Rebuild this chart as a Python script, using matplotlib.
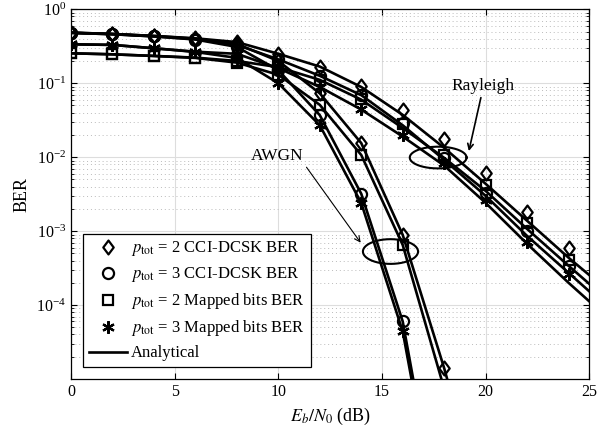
import numpy as np
import matplotlib
matplotlib.use('Agg')
import matplotlib.pyplot as plt
from matplotlib.path import Path

plt.rcParams['font.family'] = ['Liberation Serif', 'DejaVu Serif']
plt.rcParams['mathtext.fontset'] = 'stix'

# Eb/N0 grid (dB)
snr_sim = [0, 2, 4, 6, 8, 10, 12, 14, 16, 18, 20, 22, 24]
snr_ana_ray = [0, 2, 4, 6, 8, 10, 12, 14, 16, 18, 20, 22, 24, 26]
snr_ana_awgn = [0, 2, 4, 6, 8, 10, 12, 14, 16, 18, 20]

# simulated BER, Rayleigh channel
ray_p2_cci = [0.483, 0.464, 0.436, 0.405, 0.36, 0.25, 0.168, 0.093, 0.044, 0.0175, 0.0061, 0.00184, 0.00059]
ray_p3_cci = [0.48, 0.46, 0.43, 0.395, 0.33, 0.21, 0.126, 0.07, 0.029, 0.0098, 0.0033, 0.001, 0.00034]
ray_p2_map = [0.254, 0.246, 0.234, 0.222, 0.20, 0.165, 0.111, 0.062, 0.028, 0.0106, 0.0042, 0.00129, 0.00041]
ray_p3_map = [0.336, 0.33, 0.297, 0.267, 0.25, 0.16, 0.089, 0.045, 0.020, 0.0083, 0.00265, 0.00072, 0.00026]

# simulated BER, AWGN channel (points below 1e-5 not shown)
awgn_p2_cci = [0.483, 0.464, 0.436, 0.40, 0.34, 0.2, 0.073, 0.0155, 0.00089, 1.4e-5]
awgn_p3_cci = [0.48, 0.46, 0.43, 0.39, 0.31, 0.15, 0.037, 0.0032, 6.0e-5]
awgn_p2_map = [0.254, 0.246, 0.234, 0.22, 0.19, 0.13, 0.051, 0.0107, 0.00065]
awgn_p3_map = [0.336, 0.33, 0.297, 0.265, 0.22, 0.10, 0.027, 0.0024, 4.4e-5]

# analytical curves
ana_ray = [
    [0.483, 0.464, 0.436, 0.405, 0.36, 0.25, 0.168, 0.089, 0.0373, 0.01337, 0.00436, 0.00138, 0.000437, 0.000148],
    [0.254, 0.246, 0.234, 0.222, 0.20, 0.165, 0.111, 0.06, 0.0248, 0.00978, 0.0035, 0.00107, 0.00034, 0.00011],
    [0.48, 0.46, 0.43, 0.395, 0.33, 0.21, 0.126, 0.069, 0.027, 0.0092, 0.0030, 0.00086, 0.000273, 8.6e-5],
    [0.336, 0.33, 0.297, 0.267, 0.25, 0.16, 0.089, 0.044, 0.019, 0.0077, 0.00241, 0.000673, 0.0002, 6.3e-5],
]
ana_awgn = [
    [0.483, 0.464, 0.436, 0.40, 0.34, 0.2, 0.073, 0.0155, 0.00089, 1.4e-5, 1.3e-7],
    [0.254, 0.246, 0.234, 0.22, 0.19, 0.13, 0.051, 0.0107, 0.00065, 7.4e-6, 6e-8],
    [0.48, 0.46, 0.43, 0.39, 0.31, 0.15, 0.037, 0.0032, 6.0e-5, 5e-8, 1e-11],
    [0.336, 0.33, 0.297, 0.265, 0.22, 0.10, 0.027, 0.0024, 4.4e-5, 4e-8, 1e-11],
]

labels = [r'$p_{\rm tot}$ = 2 CCI-DCSK BER', r'$p_{\rm tot}$ = 3 CCI-DCSK BER',
          r'$p_{\rm tot}$ = 2 Mapped bits BER', r'$p_{\rm tot}$ = 3 Mapped bits BER']

diamond = Path([(0, 1), (0.75, 0), (0, -1), (-0.75, 0), (0, 1)],
               [Path.MOVETO, Path.LINETO, Path.LINETO, Path.LINETO, Path.CLOSEPOLY])
markers = [diamond, 'o', 's', (6, 2, 0)]
msizes = [10, 8, 7, 9]

fig = plt.figure(figsize=(6.11, 4.36), dpi=100)
ax = fig.add_axes([0.1162, 0.1307, 0.8483, 0.848])

for y in ana_ray:
    ax.plot(snr_ana_ray, y, 'k-', lw=1.9)
for y in ana_awgn:
    ax.plot(snr_ana_awgn, y, 'k-', lw=1.9)

ray_sims = [ray_p2_cci, ray_p3_cci, ray_p2_map, ray_p3_map]
awgn_sims = [awgn_p2_cci, awgn_p3_cci, awgn_p2_map, awgn_p3_map]
handles = []
for i in range(4):
    h, = ax.plot(snr_sim, ray_sims[i], ls='none', marker=markers[i], ms=msizes[i],
                 mfc='none', mec='k', mew=1.6, label=labels[i])
    ax.plot(snr_sim[:len(awgn_sims[i])], awgn_sims[i], ls='none', marker=markers[i],
            ms=msizes[i], mfc='none', mec='k', mew=1.6)
    handles.append(h)
ha, = ax.plot([], [], 'k-', lw=1.9, label='Analytical')
handles.append(ha)

# ellipses around the curve groups
t = np.linspace(0, 2 * np.pi, 200)
ax.plot(17.71 + 1.37 * np.cos(t), 10 ** (-2.005 + 0.147 * np.sin(t)), 'k-', lw=1.5)
ax.plot(15.41 + 1.33 * np.cos(t), 10 ** (-3.276 + 0.167 * np.sin(t)), 'k-', lw=1.5)

ax.text(19.85, 0.092, 'Rayleigh', fontsize=12.5, ha='center', va='center')
ax.annotate('', xy=(19.16, 0.0111), xytext=(19.8, 0.0695),
            arrowprops=dict(arrowstyle='->', lw=1.2, color='k'))
ax.text(9.96, 0.0104, 'AWGN', fontsize=12.5, ha='center', va='center')
ax.annotate('', xy=(14.05, 6.5e-4), xytext=(11.28, 0.00785),
            arrowprops=dict(arrowstyle='->', lw=0.8, color='k'))

ax.set_yscale('log')
ax.set_xlim(0, 25)
ax.set_ylim(1e-5, 1)
ax.set_xticks([0, 5, 10, 15, 20, 25])
ax.set_yticks([1e-4, 1e-3, 1e-2, 1e-1, 1])
ax.tick_params(which='both', direction='in', top=True, right=True, labelsize=11.5)
ax.tick_params(which='major', length=4)
ax.tick_params(which='minor', length=2.5)
ax.grid(True, which='major', color='#dddddd', lw=0.8, ls='-')
ax.grid(True, which='minor', axis='y', color='#bbbbbb', lw=0.7, ls=(0, (1, 3)))
ax.set_axisbelow(True)
for s in ax.spines.values():
    s.set_linewidth(0.9)

ax.set_xlabel(r'$E_b/N_0$ (dB)', fontsize=13)
ax.set_ylabel('BER', fontsize=13)

leg = ax.legend(handles=handles, loc='lower left', bbox_to_anchor=(0.0226, 0.0316),
                borderaxespad=0, fontsize=12, fancybox=False, edgecolor='k',
                framealpha=1, handlelength=2.3, handletextpad=0.25, labelspacing=0.42,
                borderpad=0.35)
leg.get_frame().set_linewidth(0.9)

fig.savefig('out.png', dpi=100)
